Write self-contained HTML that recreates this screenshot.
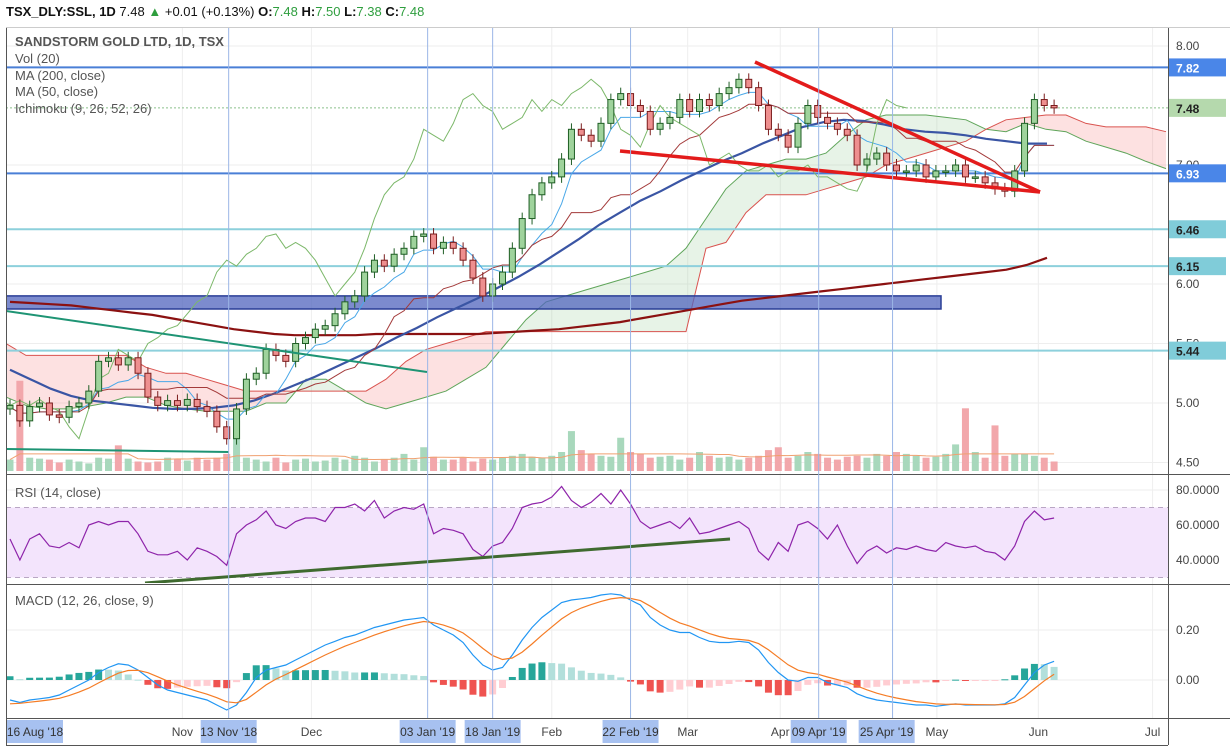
<!DOCTYPE html>
<html><head><meta charset="utf-8"><title>SSL chart</title>
<style>
html,body{margin:0;padding:0;background:#fff;width:1230px;height:756px;overflow:hidden}
svg{display:block;font-family:"Liberation Sans",sans-serif}
</style></head>
<body>
<svg id="chart" width="1230" height="756" viewBox="0 0 1230 756">
<defs>
<clipPath id="pc"><rect x="6" y="27" width="1162" height="445"/></clipPath>
<clipPath id="rc"><rect x="6" y="476" width="1162" height="107"/></clipPath>
<clipPath id="mc"><rect x="6" y="585" width="1162" height="133"/></clipPath>
</defs>
<rect x="0" y="0" width="1230" height="756" fill="#fff"/>
<g id="header" font-size="13" font-weight="bold">
<text x="6" y="16" fill="#111">TSX_DLY:SSL, 1D <tspan font-weight="normal">7.48</tspan> <tspan fill="#2e9e3e">▲</tspan> <tspan font-weight="normal">+0.01 (+0.13%)</tspan> O:<tspan fill="#2e9e3e" font-weight="normal">7.48</tspan> H:<tspan fill="#2e9e3e" font-weight="normal">7.50</tspan> L:<tspan fill="#2e9e3e" font-weight="normal">7.38</tspan> C:<tspan fill="#2e9e3e" font-weight="normal">7.48</tspan></text>
</g>
<g id="grid" stroke="#eeeeee" stroke-width="1"></g>
<g id="price" clip-path="url(#pc)"></g>
<g id="rsi" clip-path="url(#rc)"></g>
<g id="macd" clip-path="url(#mc)"></g>
<g id="frame" fill="none" stroke="#555" stroke-width="1">
<line x1="6.5" y1="27" x2="6.5" y2="745"/>
<line x1="1168.5" y1="27" x2="1168.5" y2="745"/>
<line x1="6" y1="27.5" x2="1230" y2="27.5" stroke="#ccc"/>
<line x1="6" y1="474.5" x2="1230" y2="474.5"/>
<line x1="6" y1="584.5" x2="1230" y2="584.5"/>
<line x1="6" y1="718.5" x2="1230" y2="718.5"/>
<line x1="6" y1="745.5" x2="1168" y2="745.5"/>
</g>
<g id="legend" font-size="13" fill="#555">
<text x="15" y="46" font-weight="bold">SANDSTORM GOLD LTD, 1D, TSX</text>
<text x="15" y="63">Vol (20)</text>
<text x="15" y="80">MA (200, close)</text>
<text x="15" y="96">MA (50, close)</text>
<text x="15" y="113">Ichimoku (9, 26, 52, 26)</text>
<text x="15" y="497">RSI (14, close)</text>
<text x="15" y="605">MACD (12, 26, close, 9)</text>
</g>
<g id="raxis" font-size="12" fill="#444"></g>
<g id="taxis" font-size="12" fill="#444"></g>
</svg>
<script>
// ---- data ----
const closes = [4.98,4.85,4.97,5.0,4.9,4.88,4.97,5.0,5.1,5.35,
5.38,5.32,5.38,5.25,5.05,4.98,5.02,4.98,5.03,4.97,
4.93,4.8,4.7,4.95,5.2,5.25,5.45,5.4,5.35,5.5,
5.55,5.62,5.65,5.75,5.85,5.9,6.1,6.2,6.15,6.25,
6.3,6.4,6.42,6.3,6.35,6.3,6.2,6.05,5.9,6.0,
6.1,6.3,6.55,6.75,6.85,6.9,7.05,7.3,7.25,7.2,
7.35,7.55,7.6,7.5,7.45,7.3,7.35,7.4,7.55,7.45,
7.55,7.5,7.6,7.65,7.72,7.65,7.5,7.3,7.25,7.15,
7.35,7.5,7.4,7.35,7.3,7.25,7.0,7.05,7.1,7.0,
6.95,6.95,7.0,6.9,6.95,6.95,7.0,6.9,6.9,6.85,
6.8,6.78,6.95,7.35,7.55,7.5,7.48];
const volumes = [12,95,14,13,12,9,12,10,8,14, 13,27,13,10,9,10,14,13,11,14, 12,14,18,53,14,12,10,14,9,12, 13,10,11,14,12,16,14,10,12,14, 18,12,25,15,12,12,14,10,13,12, 14,16,18,15,14,16,20,42,22,18, 16,15,35,20,18,14,15,16,12,14, 20,16,14,15,12,14,16,22,25,14, 16,20,18,14,12,15,16,14,18,16, 20,18,16,14,15,18,28,66,20,14, 48,16,18,18,16,14,10];
const rsiValues = [52,40,52,55,48,47,50,47,60,62,
60,62,62,55,45,43,43,45,40,47,
45,42,37,55,60,63,68,60,58,62,
64,64,62,70,70,72,68,74,64,68,
70,69,72,55,58,57,55,46,42,48,
50,58,70,72,73,76,82,74,70,73,
78,72,80,72,62,58,60,62,58,64,
55,56,58,60,62,58,45,40,50,45,
60,62,58,52,60,48,38,45,48,44,
47,46,48,46,45,50,48,47,48,45,
44,40,48,62,68,63,64];
const macdValues = [-0.08,-0.09,-0.08,-0.075,-0.07,-0.06,-0.04,-0.02,0.0,0.03,
0.05,0.065,0.06,0.04,0.01,-0.02,-0.04,-0.05,-0.06,-0.07,
-0.08,-0.1,-0.12,-0.1,-0.05,0.01,0.04,0.05,0.06,0.08,
0.1,0.12,0.14,0.155,0.17,0.18,0.195,0.21,0.22,0.23,
0.24,0.245,0.25,0.22,0.2,0.18,0.15,0.1,0.06,0.04,
0.05,0.1,0.16,0.21,0.25,0.28,0.31,0.32,0.325,0.33,
0.34,0.345,0.34,0.32,0.3,0.25,0.22,0.2,0.19,0.19,
0.17,0.155,0.15,0.15,0.155,0.15,0.12,0.07,0.03,0.0,
-0.005,0.01,0.01,-0.01,-0.02,-0.03,-0.055,-0.07,-0.08,-0.085,
-0.09,-0.095,-0.1,-0.1,-0.105,-0.1,-0.095,-0.1,-0.1,-0.1,
-0.1,-0.095,-0.07,-0.02,0.03,0.06,0.075];
const ma50Values = [5.28,5.2,5.12,5.06,5.02,5.0,4.98,4.96,4.95,4.95,4.96,4.98,5.02,5.08,5.15,5.22,5.3,5.38,5.46,5.55,5.63,5.72,5.8,5.88,5.97,6.06,6.16,6.27,6.38,6.5,6.6,6.7,6.78,6.87,6.95,7.03,7.1,7.18,7.25,7.32,7.36,7.38,7.37,7.34,7.3,7.28,7.27,7.25,7.22,7.2,7.18,7.18];
const ma200Values = [5.85,5.84,5.83,5.82,5.8,5.78,5.76,5.74,5.71,5.68,5.65,5.62,5.6,5.58,5.57,5.57,5.57,5.57,5.58,5.58,5.58,5.58,5.58,5.58,5.59,5.6,5.61,5.62,5.64,5.66,5.68,5.71,5.74,5.77,5.8,5.83,5.86,5.88,5.9,5.92,5.94,5.96,5.98,6.0,6.02,6.04,6.06,6.08,6.1,6.12,6.16,6.22];
const spanA = [5.05,4.98,4.95,4.95,4.97,5.0,5.05,5.05,4.98,4.95,4.93,4.93,4.93,5.0,5.0,5.2,5.2,5.1,5.0,4.95,5.0,5.05,5.1,5.2,5.3,5.5,5.7,5.85,5.9,5.95,6.0,6.05,6.1,6.15,6.3,6.55,6.8,6.95,7.0,7.05,7.05,7.1,7.25,7.38,7.42,7.42,7.42,7.4,7.38,7.3,7.28,7.35,7.3,7.28,7.2,7.15,7.1,7.03,6.97];
const spanB = [5.5,5.4,5.4,5.4,5.4,5.4,5.4,5.3,5.25,5.25,5.2,5.15,5.1,5.1,5.1,5.1,5.1,5.1,5.1,5.2,5.35,5.45,5.5,5.55,5.6,5.6,5.6,5.6,5.6,5.6,5.6,5.6,5.6,5.6,5.6,6.3,6.35,6.6,6.75,6.75,6.75,6.8,6.85,6.9,7.0,7.05,7.1,7.15,7.2,7.3,7.38,7.4,7.42,7.42,7.35,7.32,7.32,7.32,7.28];
const priceTicks = [8.00,7.00,6.00,5.50,5.00,4.50];
const rsiTicks = [80,60,40];
const macdTicks = [0.20,0.00];
const levelLines = [7.82,6.93,6.46,6.15,5.44];
const dateLabels = ["16 Aug '18","Nov","13 Nov '18","Dec","03 Jan '19","18 Jan '19","Feb","22 Feb '19","Mar","Apr","09 Apr '19","25 Apr '19","May","Jun","Jul"];
const dateIndex = [0.5,17.5,22.2,30.6,42.4,49,55,63,68.8,78.2,82.1,89,94.1,104.4,116];
const markedDates = [22.2,42.4,49,63,82.1,89.6];

// ---- scales ----
const X0 = 10, STEP = 9.85;
function xAt(i){ return X0 + i * STEP; }
function py(p){ return 46 + (8 - p) * 119; }
function ry(v){ return 490 + (80 - v) * 1.75; }
function my(v){ return 680 - v * 250; }
function vy(v){ return 471 - v * 0.95; }
function sx(j, n){ return 6 + j * (1160 / (n - 1)); }

const NS = 'http://www.w3.org/2000/svg';
function mk(tag, parent, attrs){
  const e = document.createElementNS(NS, tag);
  for (const k in attrs) e.setAttribute(k, attrs[k]);
  parent.appendChild(e);
  return e;
}
function dpath(pts){ return pts.map((p,i)=>(i?'L':'M')+p[0].toFixed(1)+' '+p[1].toFixed(1)).join(''); }

const grid = document.getElementById('grid');
const price = document.getElementById('price');
const rsiG = document.getElementById('rsi');
const macdG = document.getElementById('macd');
const raxis = document.getElementById('raxis');
const taxis = document.getElementById('taxis');

// grid
dateIndex.forEach((di, k) => {
  if (dateLabels[k].length > 4) return;
  const g = mk('line', grid, {x1:xAt(di), x2:xAt(di), y1:28, y2:718});
  
  
});
priceTicks.forEach(t => {
  const g = mk('line', grid, {x1:6, x2:1168, y1:py(t), y2:py(t)});
  
  
});
rsiTicks.forEach(t => {
  const g = mk('line', grid, {x1:6, x2:1168, y1:ry(t), y2:ry(t)});
  
  
});
macdTicks.forEach(t => {
  const g = mk('line', grid, {x1:6, x2:1168, y1:my(t), y2:my(t)});
  
  
});

// ichimoku cloud
for (let j = 0; j < spanA.length - 1; j++) {
  const a0 = spanA[j], a1 = spanA[j+1], b0 = spanB[j], b1 = spanB[j+1];
  const up = (a0 + a1) >= (b0 + b1);
  const q = mk('path', price, {d: dpath([[sx(j,spanA.length),py(a0)],[sx(j+1,spanA.length),py(a1)],[sx(j+1,spanA.length),py(b1)],[sx(j,spanA.length),py(b0)]]) + 'Z', fill: up ? 'rgba(120,190,120,0.18)' : 'rgba(245,120,120,0.22)', stroke:'none'});
  
  
}
const la = mk('path', price, {d: dpath(spanA.map((v,j)=>[sx(j,spanA.length),py(v)])), fill:'none', stroke:'#5fa55a', 'stroke-width':1});


const lb = mk('path', price, {d: dpath(spanB.map((v,j)=>[sx(j,spanB.length),py(v)])), fill:'none', stroke:'#d9534f', 'stroke-width':1});



// volume
const opens = closes.map((c,i)=> i ? closes[i-1] : c - 0.03);
volumes.forEach((v,i) => {
  const upBar = closes[i] >= opens[i];
  const r = mk('rect', price, {x:xAt(i)-3.5, y:vy(v), width:7, height:471-vy(v), fill: upBar ? '#a8d8bc' : '#f2a7ab'});
  
  
});
const vma = volumes.map((v,i)=>{ const s = volumes.slice(Math.max(0,i-11), i+1); return s.reduce((a,b)=>a+b,0)/s.length; });
const vl = mk('path', price, {d: dpath(vma.map((v,i)=>[xAt(i), vy(Math.min(v,18))])), fill:'none', stroke:'#f0a070', 'stroke-width':1});



// support rectangle
const zone = mk('rect', price, {x:6, y:py(5.9), width:935, height:py(5.79)-py(5.9), fill:'rgba(80,100,190,0.75)', stroke:'#2a3e96', 'stroke-width':1.5});



// level lines
levelLines.forEach((lv,k) => {
  const strong = (k < 2);
  const l = mk('line', price, {x1:6, x2:1168, y1:py(lv), y2:py(lv), stroke: strong ? '#4a7fd6' : '#8dd0dc', 'stroke-width': 2});
  
  
});
const cl = mk('line', price, {x1:6, x2:1168, y1:py(7.48), y2:py(7.48), stroke:'#8bc08b', 'stroke-dasharray':'2 2', 'stroke-width':1});



// date markers
markedDates.forEach(di => {
  const l = mk('line', price.parentNode, {x1:xAt(di), x2:xAt(di), y1:28, y2:718, stroke:'#9bb6e6', 'stroke-width':1});
  
  
});

// MAs
const m200 = mk('path', price, {d: dpath(ma200Values.map((v,j)=>[X0 + j*(1047-X0)/(ma200Values.length-1), py(v)])), fill:'none', stroke:'#8b1111', 'stroke-width':2.2});


const m50 = mk('path', price, {d: dpath(ma50Values.map((v,j)=>[X0 + j*(1047-X0)/(ma50Values.length-1), py(v)])), fill:'none', stroke:'#3a55a4', 'stroke-width':2.2});



// tenkan / kijun / chikou
const highs = closes.map((c,i)=>Math.max(c,opens[i])+0.05);
const lows = closes.map((c,i)=>Math.min(c,opens[i])-0.05);
function midline(n){ return closes.map((c,i)=>{ const s=Math.max(0,i-n+1); const h=Math.max(...highs.slice(s,i+1)); const l=Math.min(...lows.slice(s,i+1)); return (h+l)/2; }); }
const tenkan = midline(5), kijun = midline(15);
const tk = mk('path', price, {d: dpath(tenkan.map((v,i)=>[xAt(i),py(v)])), fill:'none', stroke:'#4aa8e8', 'stroke-width':1});


const kj = mk('path', price, {d: dpath(kijun.map((v,i)=>[xAt(i),py(v)])), fill:'none', stroke:'#a33a3a', 'stroke-width':1});


const ch = mk('path', price, {d: dpath(closes.map((v,i)=>[xAt(i-15),py(v)]).filter(p=>p[0]>0)), fill:'none', stroke:'#7cb86a', 'stroke-width':1});



// candles
closes.forEach((c,i) => {
  const o = opens[i], up = c >= o, x = xAt(i);
  const w = mk('line', price, {x1:x, x2:x, y1:py(highs[i]), y2:py(lows[i]), stroke: up ? '#1f5e25' : '#7a1c1c', 'stroke-width':1});
  
  
  const top = py(Math.max(o,c)), bot = py(Math.min(o,c));
  const b = mk('rect', price, {x:x-3, y:top, width:6, height:Math.max(1.5,bot-top), fill: up ? '#9fd39c' : '#ee8f8f', stroke: up ? '#1f5e25' : '#7a1c1c', 'stroke-width':1});
  
  
});

// trendlines
const tl = [[755,62,1040,192,'#e31b1b',3.5,'falling-wedge-top'],[620,151,1040,192,'#e31b1b',3.5,'falling-wedge-bottom'],[6,311,427,372,'#1e9474',2,'downtrend-line'],[6,449,229,452,'#1e9474',2,'support-trendline']];
tl.forEach(t => {
  const l = mk('line', price, {x1:t[0], y1:t[1], x2:t[2], y2:t[3], stroke:t[4], 'stroke-width':t[5]});
  
  
});

// RSI
const band = mk('rect', rsiG, {x:6, y:ry(70), width:1162, height:ry(30)-ry(70), fill:'#f3e4fc'});


[70,30].forEach(v => {
  const l = mk('line', rsiG, {x1:6, x2:1168, y1:ry(v), y2:ry(v), stroke:'#b9a6c4', 'stroke-dasharray':'5 4'});
  
  
});
const rl = mk('path', rsiG, {d: dpath(rsiValues.map((v,i)=>[xAt(i),ry(v)])), fill:'none', stroke:'#8e24aa', 'stroke-width':1.2});


const rt = mk('line', rsiG, {x1:145, y1:583, x2:730, y2:539, stroke:'#3f6a2f', 'stroke-width':3});



// MACD
const signal = [];
macdValues.forEach((v,i)=>{ signal.push(i ? signal[i-1] + (v - signal[i-1]) * 0.33 : v - 0.015); });
const hist = macdValues.map((v,i)=>v - signal[i]);
hist.forEach((h,i) => {
  const prev = i ? hist[i-1] : h;
  let col;
  if (h >= 0) col = h >= prev ? '#26a69a' : '#b2dfdb'; else col = h <= prev ? '#ef5350' : '#ffcdd2';
  const r = mk('rect', macdG, {x:xAt(i)-3.5, y:Math.min(my(h),my(0)), width:7, height:Math.max(1,Math.abs(my(h)-my(0))), fill:col});
  
  
});
const ml = mk('path', macdG, {d: dpath(macdValues.map((v,i)=>[xAt(i),my(v)])), fill:'none', stroke:'#2196f3', 'stroke-width':1.2});


const sl = mk('path', macdG, {d: dpath(signal.map((v,i)=>[xAt(i),my(v)])), fill:'none', stroke:'#f57c25', 'stroke-width':1.2});



// right axis ticks
priceTicks.forEach(t => {
  const tx = mk('text', raxis, {x:1176, y:py(t)+4});
  tx.textContent = t.toFixed(2);
  
  
});
rsiTicks.forEach(t => {
  const tx = mk('text', raxis, {x:1176, y:ry(t)+4});
  tx.textContent = t.toFixed(4);
  
  
});
macdTicks.forEach(t => {
  const tx = mk('text', raxis, {x:1176, y:my(t)+4});
  tx.textContent = t.toFixed(2);
  
  
});
const boxes = [[7.82,'#4a86e8','#fff'],[7.48,'#b5d9ad','#222'],[6.93,'#4a86e8','#fff'],[6.46,'#80ccd9','#222'],[6.15,'#80ccd9','#222'],[5.44,'#80ccd9','#222']];
boxes.forEach(b => {
  const r = mk('rect', raxis, {x:1169, y:py(b[0])-9, width:57, height:18, fill:b[1]});
  
  
  const tx = mk('text', raxis, {x:1176, y:py(b[0])+5, fill:b[2], 'font-weight':'bold'});
  tx.textContent = b[0].toFixed(2);
  
  
});

// time axis
dateLabels.forEach((lab,k) => {
  const x = xAt(dateIndex[k]);
  if (lab.length > 4) {
    const w = 56;
    const r = mk('rect', taxis, {x:Math.max(7,x-w/2), y:720, width:w, height:23, fill:'#a7c1f0'});
    
    
    const tx = mk('text', taxis, {x:Math.max(7,x-w/2)+w/2, y:736, 'text-anchor':'middle', fill:'#333'});
    tx.textContent = lab;
    
    
  } else {
    const tx = mk('text', taxis, {x:x, y:736, 'text-anchor':'middle'});
    tx.textContent = lab;
    
    
  }
});
</script>
</body></html>
